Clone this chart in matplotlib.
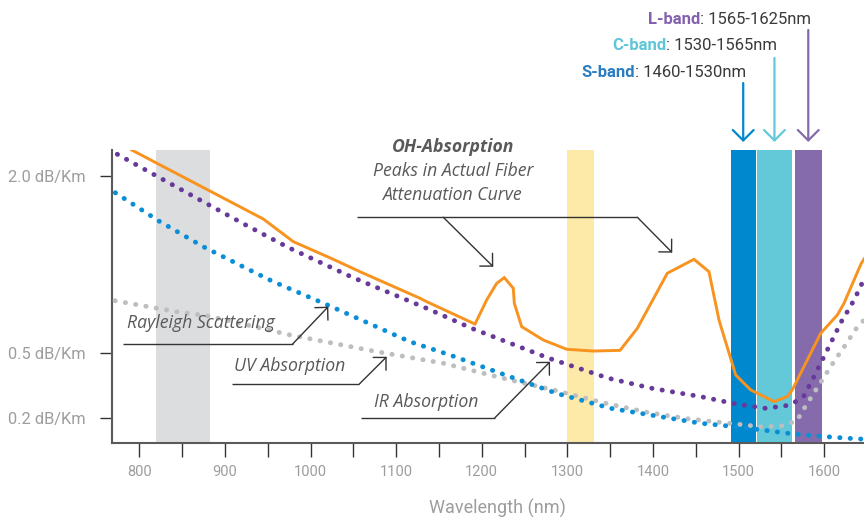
import numpy as np
import matplotlib
matplotlib.use("Agg")
import matplotlib.pyplot as plt
from matplotlib.offsetbox import TextArea, HPacker, AnnotationBbox

# ---------------- data ----------------
ORANGE_NM = [791.1, 944.9, 979.9, 1026.6, 1057.8, 1127.9, 1135.7, 1192.2, 1205.8, 1217.5,
             1226.4, 1236.9, 1238.1, 1246.7, 1272.0, 1299.3, 1330.4, 1361.6, 1381.8, 1416.8,
             1448.0, 1465.5, 1477.2, 1496.7, 1514.2, 1541.5, 1557.0, 1562.8, 1596.0, 1615.4,
             1623.2, 1643.4, 1647.0]
ORANGE_DB = [2.217, 1.634, 1.443, 1.294, 1.189, 0.965, 0.936, 0.747, 0.950, 1.091,
             1.139, 1.049, 0.922, 0.725, 0.612, 0.534, 0.519, 0.525, 0.711, 1.176,
             1.294, 1.189, 0.781, 0.400, 0.331, 0.277, 0.300, 0.331, 0.669, 0.823,
             0.922, 1.260, 1.300]

IR_NM = [774.3, 825.0, 875.9, 922.7, 974.5, 1048.8, 1135.7, 1188.3, 1278.6, 1347.9,
         1399.3, 1455.8, 1498.6, 1531.8, 1555.1, 1566.8, 1576.5, 1586.2, 1597.9, 1608.9,
         1620.1, 1631.8, 1642.7, 1646.6]
IR_DB = [2.181, 1.978, 1.775, 1.590, 1.392, 1.142, 0.880, 0.711, 0.477, 0.385,
         0.338, 0.300, 0.265, 0.246, 0.258, 0.277, 0.304, 0.377, 0.469, 0.604,
         0.767, 0.908, 1.062, 1.139]

RAYLEIGH_NM = [772.0, 822.2, 874.8, 924.3, 956.5, 1022.8, 1116.2, 1163.0, 1233.1, 1287.6,
               1350.7, 1397.4, 1455.8, 1486.9, 1521.9, 1557.0, 1592.0, 1638.8, 1646.6]
RAYLEIGH_DB = [1.856, 1.620, 1.400, 1.220, 1.105, 0.899, 0.598, 0.492, 0.392, 0.315,
               0.246, 0.215, 0.177, 0.165, 0.149, 0.131, 0.118, 0.105, 0.104]

UV_NM = [771.6, 843.7, 880.6, 976.0, 1077.3, 1155.1, 1233.1, 1283.6, 1344.9, 1395.4,
         1442.2, 1488.9, 1525.9, 1549.3, 1568.0, 1579.7, 1592.0, 1610.7, 1624.1, 1636.9,
         1646.6]
UV_DB = [0.944, 0.851, 0.815, 0.655, 0.514, 0.454, 0.377, 0.331, 0.269, 0.226,
         0.197, 0.177, 0.161, 0.164, 0.188, 0.265, 0.341, 0.457, 0.562, 0.703,
         0.781]

# shaded windows as drawn (nm)
WINDOWS = [(820, 883), (1300, 1331)]
# telecom bands as drawn (nm)
BAND_NAMES = ["S-band", "C-band", "L-band"]
BAND_RANGES_TEXT = [": 1460-1530nm", ": 1530-1565nm", ": 1565-1625nm"]
BAND_SPANS = [(1491, 1520), (1522, 1562), (1566, 1597)]

X_TICKS = list(range(800, 1601, 50))
X_LABELS = [str(v) if v % 100 == 0 else "" for v in X_TICKS]
Y_TICKS = [0.2, 0.5, 2.0]
Y_LABELS = ["0.2 dB/Km", "0.5 dB/Km", "2.0 dB/Km"]

# ---------------- styling ----------------
C_ORANGE = "#F7931E"
C_IR = "#67399A"
C_RAY = "#0A8FD6"
C_UV = "#BDBEC0"
C_GRAYBAND = "#DCDDDF"
C_YELLOW = "#FDEAA8"
BAND_COLORS = ["#0088CE", "#63C8D8", "#866BAC"]
BAND_TEXT_COLORS = ["#2A7DC2", "#5EC6D8", "#8461AD"]
C_TEXT = "#595959"
C_TICK = "#9D9D9D"

TICK_FONT = "Roboto"
ANN_FONT = "Open Sans"
ANN_SIZE = 12.7

# schematic (piecewise linear) attenuation axis
def fwd(v):
    v = np.asarray(v, float)
    return np.where(v < 0.5, 24.4 + (v - 0.2) * 216.7, 89.4 + (v - 0.5) * 118.4)

def inv(h):
    h = np.asarray(h, float)
    return np.where(h < 89.4, 0.2 + (h - 24.4) / 216.7, 0.5 + (h - 89.4) / 118.4)

fig = plt.figure(figsize=(8.64, 5.18), dpi=100)
ax = fig.add_axes([112 / 864, 75.3 / 518, (864 - 112) / 864, (442.7 - 150) / 518])
ax.set_yscale("function", functions=(fwd, inv))
ax.set_xlim(768.1, 1646.6)
ax.set_ylim(0.0874, 2.217)

for a, b in WINDOWS[:1]:
    ax.axvspan(a, b, color=C_GRAYBAND, lw=0, zorder=1)
for a, b in WINDOWS[1:]:
    ax.axvspan(a, b, color=C_YELLOW, lw=0, zorder=1)
for (a, b), c in zip(BAND_SPANS, BAND_COLORS):
    ax.axvspan(a, b, color=c, lw=0, zorder=1)

dot = dict(lw=3.5, linestyle=(0, (0.05, 2.1)), dash_capstyle="round", zorder=3)
ax.plot(UV_NM, UV_DB, color=C_UV, **dot)
ax.plot(RAYLEIGH_NM, RAYLEIGH_DB, color=C_RAY, **dot)
ax.plot(IR_NM, IR_DB, color=C_IR, **dot)
ax.plot(ORANGE_NM, ORANGE_DB, color=C_ORANGE, lw=2.1, zorder=4, solid_joinstyle="miter")

# axes styling
for s in ["top", "right"]:
    ax.spines[s].set_visible(False)
for s in ["left", "bottom"]:
    ax.spines[s].set_color("#5A5A5A")
    ax.spines[s].set_linewidth(1.5)
ax.set_xticks(X_TICKS)
ax.set_xticklabels(X_LABELS)
ax.set_yticks(Y_TICKS)
ax.set_yticklabels(Y_LABELS)
ax.minorticks_off()
ax.tick_params(axis="x", direction="out", length=10, width=1.0, color="#333333",
               labelcolor=C_TICK, labelsize=10.5, pad=6)
ax.tick_params(axis="y", direction="out", length=9, width=1.0, color="#333333",
               labelcolor=C_TICK, labelsize=11.8, pad=10)
for lab in ax.get_xticklabels() + ax.get_yticklabels():
    lab.set_fontfamily(TICK_FONT)
ax.set_xlabel("Wavelength (nm)", fontsize=13, color=C_TICK, family=TICK_FONT)
ax.xaxis.set_label_coords(0.512, -0.223)
ax.xaxis.label.set_va("center")

# ---------------- annotations ----------------
lead = dict(color="#333333", lw=1.0, zorder=5)
head = dict(arrowstyle="->,head_length=0.65,head_width=0.65", color="#333333", lw=1.0,
            mutation_scale=10, shrinkA=0, shrinkB=0)

def leader(x0, x1, y, xt, yt):
    ax.plot([x0, x1], [y, y], solid_capstyle="butt", **lead)
    ax.annotate("", xy=(xt, yt), xytext=(x1, y), arrowprops=head, zorder=5)

txt = dict(style="italic", family=ANN_FONT, fontsize=ANN_SIZE, color=C_TEXT, zorder=6)
# Rayleigh
ax.text(786.0, 0.753, "Rayleigh Scattering", ha="left", va="center", **txt)
leader(780.6, 979.2, 0.579, 1020.8, 0.894)
# UV
ax.text(911.0, 0.441, "UV Absorption", ha="left", va="center", **txt)
leader(907.9, 1057.0, 0.358, 1089.0, 0.484)
# IR
ax.text(1074.5, 0.277, "IR Absorption", ha="left", va="center", **txt)
leader(1058.6, 1215.5, 0.203, 1279.8, 0.461)
# OH
ax.text(1166.5, 2.242, "OH-Absorption", weight="bold", ha="center", va="center",
        clip_on=False, **txt)
ax.text(1166.5, 2.042, "Peaks in Actual Fiber", ha="center", va="center", **txt)
ax.text(1166.5, 1.837, "Attenuation Curve", ha="center", va="center", **txt)
ax.plot([1054.3, 1381.8], [1.649, 1.649], solid_capstyle="butt", **lead)
ax.annotate("", xy=(1213.5, 1.231), xytext=(1155.1, 1.649), arrowprops=head, zorder=5)
ax.annotate("", xy=(1422.6, 1.350), xytext=(1381.8, 1.649), arrowprops=head, zorder=5)

# band arrows + labels
arrow_start = [435 / 518, 460 / 518, 488 / 518]
label_y = [446 / 518, 472 / 518, 498 / 518]
for (a, b), c, tc, name, rng, ys, yl in zip(BAND_SPANS, BAND_COLORS, BAND_TEXT_COLORS,
                                             BAND_NAMES, BAND_RANGES_TEXT, arrow_start, label_y):
    xc = (a + b) / 2
    ax.annotate("", xy=(xc, 376 / 518), xytext=(xc, ys),
                xycoords=("data", "figure fraction"), textcoords=("data", "figure fraction"),
                arrowprops=dict(arrowstyle="->,head_length=0.75,head_width=0.75", color=c,
                                lw=1.6, mutation_scale=10, shrinkA=0, shrinkB=0),
                annotation_clip=False)
    t1 = TextArea(name, textprops=dict(color=tc, weight="bold", family=TICK_FONT, fontsize=12))
    t2 = TextArea(rng, textprops=dict(color="#3A3A3A", family=TICK_FONT, fontsize=12))
    box = HPacker(children=[t1, t2], pad=0, sep=0, align="baseline")
    ab = AnnotationBbox(box, (xc, yl), xycoords=("data", "figure fraction"),
                        box_alignment=(1.0, 0.5), frameon=False, pad=0,
                        xybox=(2, 0), boxcoords="offset points", annotation_clip=False)
    ax.add_artist(ab)

fig.savefig("out.png", dpi=100)
